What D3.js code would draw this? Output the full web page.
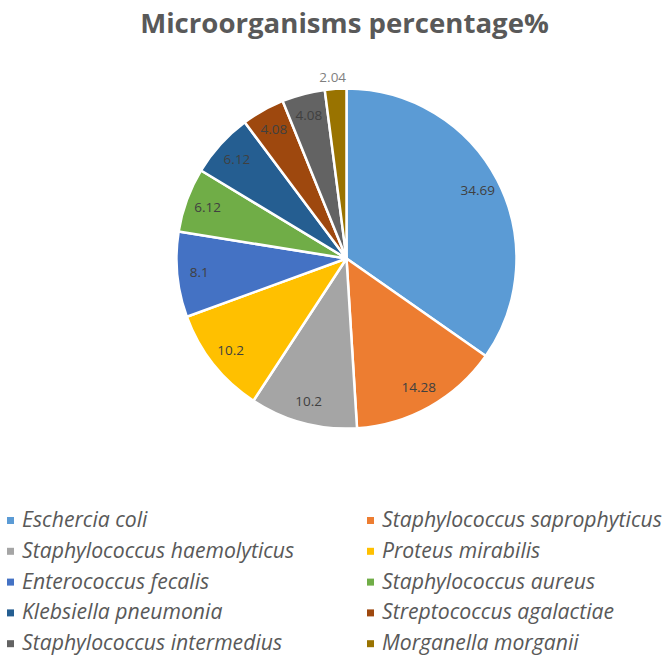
<!DOCTYPE html>
<html>
<head>
<meta charset="utf-8">
<script src="https://cdn.jsdelivr.net/npm/d3@7/dist/d3.min.js"></script>
<style>
  body { margin: 0; background: #fff; }
  svg { display: block; }
</style>
</head>
<body>
<svg id="chart"></svg>
<script>
// chart data
const species = [
  'Eschercia coli',
  'Staphylococcus saprophyticus',
  'Staphylococcus haemolyticus',
  'Proteus mirabilis',
  'Enterococcus fecalis',
  'Staphylococcus aureus',
  'Klebsiella pneumonia',
  'Streptococcus agalactiae',
  'Staphylococcus intermedius',
  'Morganella morganii'
];
const percentages = [34.69, 14.28, 10.2, 10.2, 8.1, 6.12, 6.12, 4.08, 4.08, 2.04];
const sliceColors = ['#5b9bd5', '#ed7d31', '#a5a5a5', '#ffc000', '#4472c4',
  '#70ad47', '#255e91', '#9e480e', '#636363', '#997300'];
const chartTitle = 'Microorganisms percentage%';

const width = 671, height = 659;
const cx = 346.5, cy = 258.5, radius = 170;

const svg = d3.select('#chart').attr('width', width).attr('height', height);

// title
svg.append('text')
  .attr('x', cx - 2)
  .attr('y', 33)
  .attr('text-anchor', 'middle')
  .attr('font-family', 'Open Sans, sans-serif')
  .attr('font-weight', 'bold')
  .attr('font-size', 27.6)
  .attr('fill', '#595959')
  .text(chartTitle);

const data = species.map((name, i) => ({ name, value: percentages[i], color: sliceColors[i] }));

const pie = d3.pie().sort(null).value(d => d.value);
const arcs = pie(data);
const arc = d3.arc().innerRadius(0).outerRadius(radius);
const labelArc = d3.arc().innerRadius(radius * 0.87).outerRadius(radius * 0.87);
const outsideArc = d3.arc().innerRadius(radius * 1.08).outerRadius(radius * 1.08);

const g = svg.append('g').attr('transform', `translate(${cx},${cy})`);

g.selectAll('path')
  .data(arcs)
  .enter()
  .append('path')
  .attr('d', arc)
  .attr('fill', d => d.data.color)
  .attr('stroke', '#fff')
  .attr('stroke-width', 2.5)
  .attr('stroke-linejoin', 'round');

// data labels: tiny slices get their label outside, like excel's best fit
g.selectAll('text.val')
  .data(arcs)
  .enter()
  .append('text')
  .attr('class', 'val')
  .attr('transform', d => {
    const small = d.endAngle - d.startAngle < 0.2;
    const p = (small ? outsideArc : labelArc).centroid(d);
    return `translate(${p[0] - (small ? 2 : 0)},${p[1] + (small ? 2 : 0)})`;
  })
  .attr('text-anchor', 'middle')
  .attr('dy', '0.35em')
  .attr('font-family', 'Open Sans, sans-serif')
  .attr('font-size', 13.5)
  .attr('fill', d => (d.endAngle - d.startAngle < 0.2 ? '#7f7f7f' : '#404040'))
  .text(d => d.data.value);

// legend, two columns
const legendX = [7, 367];
const legendY0 = 527, legendStep = 30.8;

const items = svg.append('g')
  .selectAll('g')
  .data(data)
  .enter()
  .append('g')
  .attr('transform', (d, i) => `translate(${legendX[i % 2]},${legendY0 + Math.floor(i / 2) * legendStep})`);

items.append('rect')
  .attr('x', 0)
  .attr('y', -10)
  .attr('width', 7)
  .attr('height', 7)
  .attr('fill', d => d.color);

items.append('text')
  .attr('x', 15)
  .attr('y', 0)
  .attr('font-family', 'Open Sans, sans-serif')
  .attr('font-style', 'italic')
  .attr('font-size', 21.2)
  .attr('fill', '#595959')
  .text(d => d.name);
</script>
</body>
</html>
